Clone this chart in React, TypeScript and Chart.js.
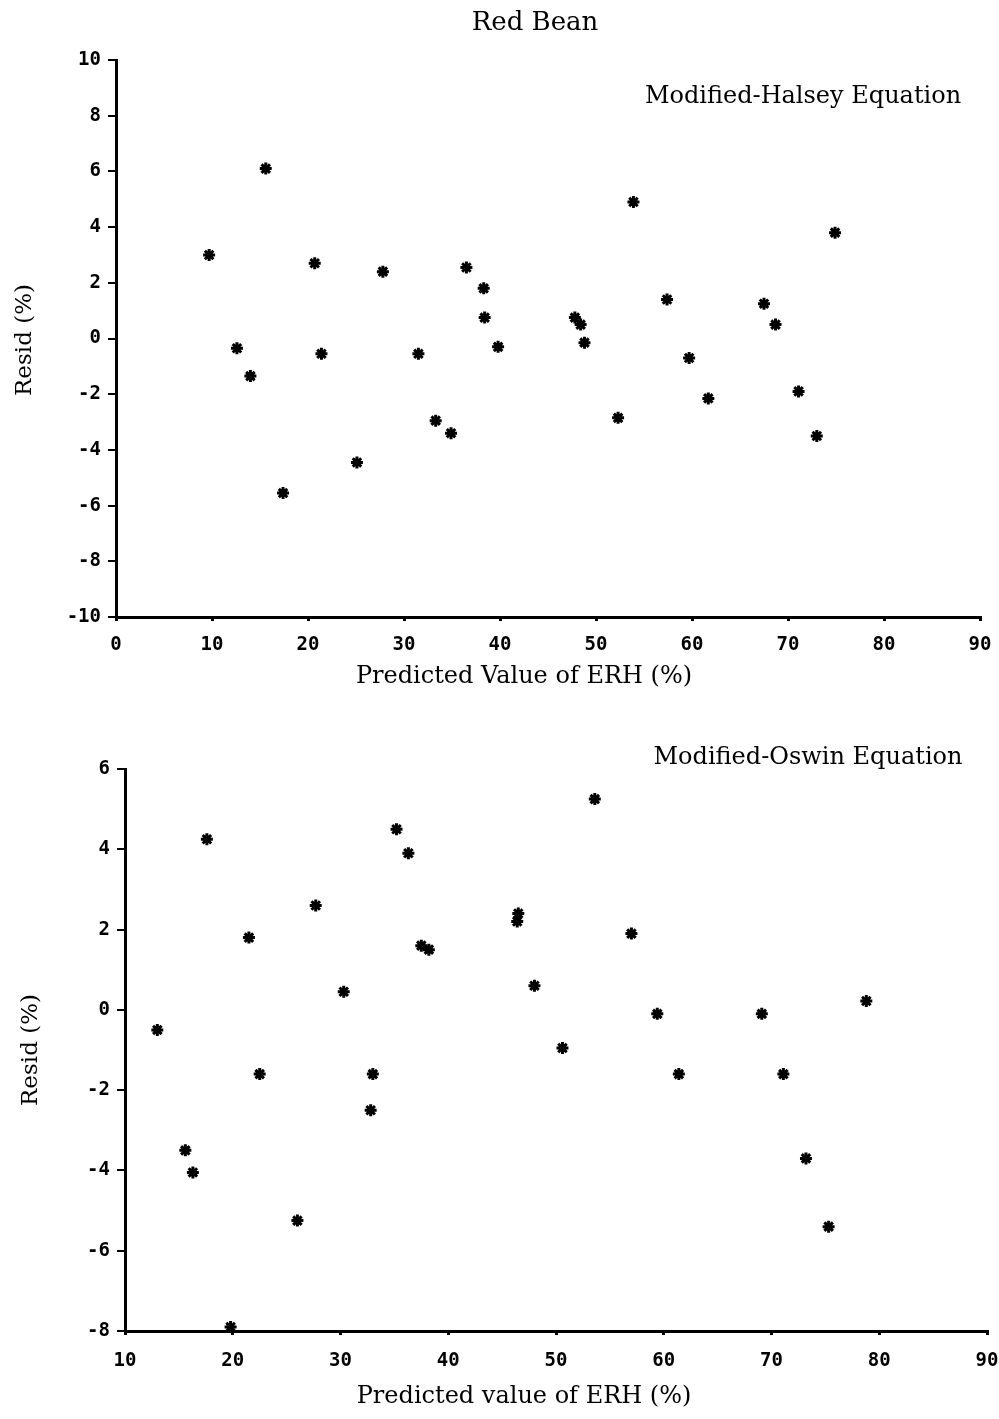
import React, { useEffect, useRef } from "react";
import { Chart, registerables } from "chart.js";

Chart.register(...registerables);

// ---- Data: Modified-Halsey Equation (top panel) ----
const halseyPredicted = [
  9.7, 12.6, 14.0, 15.6, 17.4, 20.7, 21.4, 25.1, 27.8, 31.5, 33.3, 34.9, 36.5,
  38.3, 38.4, 39.8, 47.8, 48.4, 48.8, 52.3, 53.9, 57.4, 59.7, 61.7, 67.5, 68.7,
  71.1, 73.0, 74.9,
];
const halseyResid = [
  3.0, -0.35, -1.35, 6.1, -5.55, 2.7, -0.55, -4.45, 2.4, -0.55, -2.95, -3.4, 2.55,
  1.8, 0.75, -0.3, 0.75, 0.5, -0.15, -2.85, 4.9, 1.4, -0.7, -2.15, 1.25, 0.5,
  -1.9, -3.5, 3.8,
];

// ---- Data: Modified-Oswin Equation (bottom panel) ----
const oswinPredicted = [
  13.0, 15.6, 16.3, 17.6, 19.8, 21.5, 22.5, 26.0, 27.7, 30.3, 33.0, 32.8, 35.2,
  36.3, 37.5, 38.2, 46.5, 46.4, 48.0, 50.6, 53.6, 57.0, 59.4, 61.4, 69.1, 71.1,
  73.2, 75.3, 78.8,
];
const oswinResid = [
  -0.5, -3.5, -4.05, 4.25, -7.9, 1.8, -1.6, -5.25, 2.6, 0.45, -1.6, -2.5, 4.5,
  3.9, 1.6, 1.5, 2.4, 2.2, 0.6, -0.95, 5.25, 1.9, -0.1, -1.6, -0.1, -1.6,
  -3.7, -5.4, 0.22,
];

// ---- Axis ranges / ticks ----
const topXTicks = [0, 10, 20, 30, 40, 50, 60, 70, 80, 90];
const topYTicks = [-10, -8, -6, -4, -2, 0, 2, 4, 6, 8, 10];
const botXTicks = [10, 20, 30, 40, 50, 60, 70, 80, 90];
const botYTicks = [-8, -6, -4, -2, 0, 2, 4, 6];

// ---- Text ----
const mainTitle = "Red Bean";
const topLabel = "Modified-Halsey Equation";
const botLabel = "Modified-Oswin Equation";
const yTitle = "Resid (%)";
const topXTitle = "Predicted Value of ERH (%)";
const botXTitle = "Predicted value of ERH (%)";

const SERIF = "'DejaVu Serif', 'Liberation Serif', serif";
const TICKFONT = "'DejaVu Sans Mono', monospace";

type TextItem = { text: string; x: number; y: number; size: number; rotate?: number };

function makeTextPlugin(id: string, items: TextItem[]) {
  return {
    id,
    afterDraw(chart: any) {
      const ctx = chart.ctx as CanvasRenderingContext2D;
      for (const t of items) {
        ctx.save();
        ctx.font = `${t.size}px ${SERIF}`;
        ctx.fillStyle = "#000";
        ctx.textAlign = "center";
        ctx.textBaseline = "middle";
        ctx.translate(t.x, t.y);
        if (t.rotate) ctx.rotate(t.rotate);
        ctx.fillText(t.text, 0, 0);
        ctx.restore();
      }
    },
  };
}

function makeConfig(
  xs: number[],
  ys: number[],
  xTicks: number[],
  yTicks: number[],
  area: { left: number; right: number; top: number; bottom: number },
  canvasH: number,
  xPad: number,
  texts: TextItem[],
  pluginId: string
): any {
  const data = xs.map((x, i) => ({ x, y: ys[i] }));
  return {
    type: "scatter",
    data: {
      datasets: [
        {
          data,
          pointStyle: "star",
          radius: 6,
          borderWidth: 3,
          borderColor: "#000",
          backgroundColor: "#000",
        },
      ],
    },
    options: {
      animation: false,
      responsive: false,
      layout: {
        padding: { top: area.top, right: 999 - area.right, left: 0, bottom: 0 },
      },
      plugins: {
        legend: { display: false },
        tooltip: { enabled: false },
        title: { display: false },
      },
      scales: {
        x: {
          type: "linear",
          min: xTicks[0],
          max: xTicks[xTicks.length - 1],
          afterBuildTicks: (s: any) => {
            s.ticks = xTicks.map((v) => ({ value: v }));
          },
          afterFit: (s: any) => {
            s.height = canvasH - area.bottom;
            s.paddingLeft = 0;
            s.paddingRight = 0;
          },
          border: { display: true, color: "#000", width: 3 },
          grid: {
            display: true,
            drawOnChartArea: false,
            drawTicks: true,
            tickLength: 4,
            color: "#000",
            lineWidth: 3,
          },
          ticks: {
            color: "#000",
            padding: xPad,
            maxRotation: 0,
            font: { family: TICKFONT, size: 19, weight: "bold" },
          },
        },
        y: {
          type: "linear",
          min: yTicks[0],
          max: yTicks[yTicks.length - 1],
          afterBuildTicks: (s: any) => {
            s.ticks = yTicks.map((v) => ({ value: v }));
          },
          afterFit: (s: any) => {
            s.width = area.left;
            s.paddingTop = 0;
            s.paddingBottom = 0;
          },
          border: { display: true, color: "#000", width: 3 },
          grid: {
            display: true,
            drawOnChartArea: false,
            drawTicks: true,
            tickLength: 8,
            color: "#000",
            lineWidth: 2,
          },
          ticks: {
            color: "#000",
            padding: 7,
            font: { family: TICKFONT, size: 19, weight: "bold" },
          },
        },
      },
    },
    plugins: [makeTextPlugin(pluginId, texts)],
  };
}

export default function App() {
  const topRef = useRef<HTMLCanvasElement>(null);
  const botRef = useRef<HTMLCanvasElement>(null);

  useEffect(() => {
    const topH = 700;
    const botH = 719;
    const c1 = new Chart(
      topRef.current as HTMLCanvasElement,
      makeConfig(
        halseyPredicted,
        halseyResid,
        topXTicks,
        topYTicks,
        { left: 116, right: 980, top: 60, bottom: 617 },
        topH,
        13,
        [
          { text: mainTitle, x: 535, y: 23, size: 26 },
          { text: topLabel, x: 803, y: 97, size: 24 },
          { text: yTitle, x: 25, y: 340, size: 23, rotate: -Math.PI / 2 },
          { text: topXTitle, x: 524, y: 677, size: 24 },
        ],
        "topText"
      )
    );
    const c2 = new Chart(
      botRef.current as HTMLCanvasElement,
      makeConfig(
        oswinPredicted,
        oswinResid,
        botXTicks,
        botYTicks,
        { left: 125, right: 987, top: 69, bottom: 631 },
        botH,
        15,
        [
          { text: botLabel, x: 808, y: 58, size: 24 },
          { text: yTitle, x: 31, y: 350, size: 23, rotate: -Math.PI / 2 },
          { text: botXTitle, x: 524, y: 697, size: 24 },
        ],
        "botText"
      )
    );
    return () => {
      c1.destroy();
      c2.destroy();
    };
  }, []);

  return (
    <div
      style={{
        position: "absolute",
        left: 0,
        top: 0,
        width: 999,
        height: 1419,
        background: "#fff",
      }}
    >
      <canvas
        ref={topRef}
        width={999}
        height={700}
        style={{ position: "absolute", left: 0, top: 0, width: 999, height: 700 }}
      />
      <canvas
        ref={botRef}
        width={999}
        height={719}
        style={{ position: "absolute", left: 0, top: 700, width: 999, height: 719 }}
      />
    </div>
  );
}
